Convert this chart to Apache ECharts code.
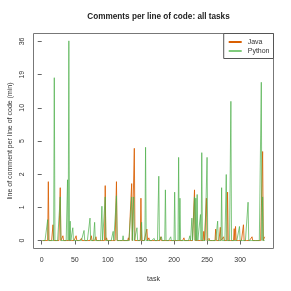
<!DOCTYPE html>
<html><head><meta charset="utf-8">
<script src="https://cdn.jsdelivr.net/npm/echarts@6/dist/echarts.min.js"></script>
<style>html,body{margin:0;padding:0;background:#fff}#c{width:291px;height:291px}</style>
</head><body><div id="c"></div>
<script>
// number of tasks on the x axis
const taskCount = 337;
// x tick labels
const xTicks = [0, 50, 100, 150, 200, 250, 300];
// y tick labels (axis is log(1+x) scaled, ticks evenly spaced)
const yTickLabels = ['0', '1', '2', '5', '10', '19', '36'];
// Java: tasks with non-zero values and their values
const javaTasks  = [10, 17, 28, 32, 52, 60, 75, 82, 96, 98, 113, 131, 136, 140, 150, 159, 162, 180, 215, 231, 245, 249, 253, 263, 270, 275, 281, 291, 293, 305, 318, 334, 337];
const javaValues = [1.9, 0.33, 1.6, 0.09, 0.09, 0.04, 0.09, 0.07, 1.7, 0.05, 1.9, 0.05, 1.8, 4.3, 1.15, 0.23, 0.05, 0.07, 0.05, 1.5, 0.18, 1.15, 0.04, 0.23, 0.27, 0.07, 1.4, 0.24, 0.29, 0.33, 0.07, 4.0, 0.07];
// Python: tasks with non-zero values and their values
const pythonTasks  = [9, 19, 28, 39, 41, 43, 47, 64, 73, 80, 91, 96, 108, 113, 123, 136, 139, 144, 151, 157, 170, 177, 181, 187, 195, 201, 207, 209, 224, 227, 231, 233, 235, 240, 242, 250, 266, 272, 279, 286, 299, 312, 332, 334];
const pythonValues = [0.46, 18, 1.2, 2.0, 36, 0.42, 0.26, 0.2, 0.5, 0.39, 0.86, 1.2, 0.18, 1.25, 0.09, 1.2, 1.2, 0.26, 0.39, 4.4, 0.04, 2.2, 0.07, 1.5, 0.07, 1.4, 3.5, 1.15, 0.09, 0.5, 1.2, 1.15, 1.3, 0.6, 3.9, 3.5, 0.42, 1.6, 2.3, 11.4, 0.29, 1.0, 16.5, 1.2];

const K = 0.6;
const toAxis = v => Math.log1p(v) / K;
function buildSeries(tasks, values) {
  const m = new Map();
  tasks.forEach((t, i) => m.set(t, values[i]));
  const out = [];
  for (let t = 1; t <= taskCount; t++) out.push([t, toAxis(m.has(t) ? m.get(t) : 0)]);
  return out;
}
const font = 'Liberation Sans, Arial, sans-serif';
const chart = echarts.init(document.getElementById('c'), null, {renderer: 'canvas'});
const pad = (taskCount - 1) * 0.04;
chart.setOption({
  animation: false,
  title: {text: 'Comments per line of code: all tasks', left: 153.5, top: 8, textAlign: 'center',
    textStyle: {fontFamily: font, fontSize: 8.2, fontWeight: 'bold', color: '#222'}},
  legend: {right: 17.5, top: 33.5, orient: 'vertical', itemGap: 2, itemWidth: 13, itemHeight: 2,
    icon: 'rect', padding: [5, 4, 4, 5], borderColor: '#555', borderWidth: 1, backgroundColor: '#fff',
    textStyle: {fontFamily: font, fontSize: 7, color: '#333', padding: [0, 0, 0, 1]},
    data: ['Java', 'Python']},
  grid: {left: 33.5, top: 33.5, width: 240, height: 215, show: true, borderColor: '#777', borderWidth: 1,
    containLabel: false, outerBoundsMode: 'none'},
  xAxis: {type: 'value', min: 1 - pad, max: taskCount + pad, name: 'task', nameLocation: 'middle', nameGap: 27,
    nameMoveOverlap: false,
    nameTextStyle: {fontFamily: font, fontSize: 7, color: '#333'},
    axisLine: {show: false}, splitLine: {show: false},
    axisTick: {show: true, length: 4, customValues: xTicks, lineStyle: {color: '#666'}},
    axisLabel: {customValues: xTicks, fontFamily: font, fontSize: 7, color: '#333', margin: 8}},
  yAxis: {type: 'value', min: -0.24, max: 6.24,
    name: 'line of comment per line of code (min)', nameLocation: 'middle', nameGap: 20,
    nameMoveOverlap: false,
    nameTextStyle: {fontFamily: font, fontSize: 7, color: '#333'},
    axisLine: {show: false}, splitLine: {show: false},
    axisTick: {show: true, length: 4, customValues: [0, 1, 2, 3, 4, 5, 6], lineStyle: {color: '#666'}},
    axisLabel: {customValues: [0, 1, 2, 3, 4, 5, 6], rotate: 90, fontFamily: font, fontSize: 7, color: '#333', margin: 8,
      formatter: v => yTickLabels[Math.round(v)]}},
  series: [
    {name: 'Java', type: 'line', data: buildSeries(javaTasks, javaValues), showSymbol: false, symbol: 'none',
      color: '#d95f02', lineStyle: {width: 1, color: '#d95f02', opacity: 0.85}},
    {name: 'Python', type: 'line', data: buildSeries(pythonTasks, pythonValues), showSymbol: false, symbol: 'none',
      color: '#7fcb7c', lineStyle: {width: 1, color: '#4daf4a', opacity: 0.7}}
  ]
});
</script></body></html>
